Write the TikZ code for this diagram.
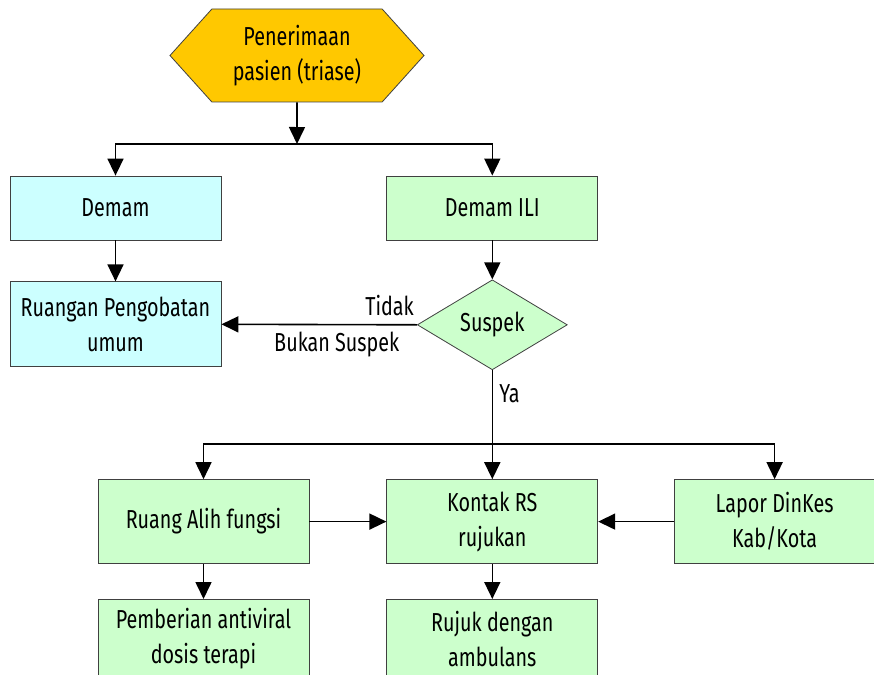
\documentclass[tikz,border=0pt]{standalone}
\usepackage{fontspec}
\setmainfont[FakeStretch=0.76]{Fira Sans}
\usepackage{tikz}
\usetikzlibrary{arrows.meta,positioning,shapes.geometric,shapes.symbols}

\definecolor{hexgold}{RGB}{255,200,0}
\definecolor{boxcyan}{RGB}{204,255,255}
\definecolor{boxgreen}{RGB}{204,255,204}

\begin{document}
\begin{tikzpicture}[x=1pt, y=1pt, font=\fontsize{26}{35}\selectfont, node distance=41pt,
  bx/.style={draw=black!75, line width=0.8pt, fill=#1, align=center, minimum width=211pt, inner sep=2pt},
  arr/.style={-{Triangle[length=17pt,width=16pt]}, line width=1.6pt}]
\useasboundingbox (0,0) rectangle (874,-674);
\node[signal, signal to=east and west, signal pointer angle=96, draw=black!75, line width=0.8pt,
  fill=hexgold, minimum width=254pt, minimum height=93pt, inner sep=0pt, align=center] (hex) at (297,-55.5)
  {Penerimaan\\pasien (triase)};
\coordinate (j1) at (297,-144);
\node[bx=boxcyan, minimum height=64pt] (demam) at (115.5,-208) {Demam};
\node[bx=boxgreen, minimum height=64pt, right=165pt of demam] (ili) {Demam ILI};
\node[bx=boxcyan, minimum height=85pt, below=41pt of demam] (umum) {Ruangan Pengobatan\\umum};
\node[diamond, draw=black!75, line width=0.8pt, fill=boxgreen, minimum width=150pt, minimum height=90pt,
  inner sep=0pt, below=39pt of ili] (suspek) {Suspek};
\node[bx=boxgreen, minimum height=84pt, below=109pt of suspek] (kontak) {Kontak RS\\rujukan};
\coordinate (j2) at (suspek |- 0,-444);
\node[bx=boxgreen, minimum height=84pt, left=77pt of kontak] (alih) {Ruang Alih fungsi};
\node[bx=boxgreen, minimum height=84pt, minimum width=200pt, right=76pt of kontak] (lapor) {Lapor DinKes\\Kab/Kota};
\node[bx=boxgreen, minimum height=79pt, below=35pt of alih] (antiviral) {Pemberian antiviral\\dosis terapi};
\node[bx=boxgreen, minimum height=79pt, below=35pt of kontak] (ambulans) {Rujuk dengan\\ambulans};
% alur atas
\draw[arr] (hex) -- (j1);
\draw[arr] (j1) -| (demam.north);
\draw[arr] (j1) -| (ili.north);
\draw[arr] (demam) -- (umum);
\draw[arr] (ili) -- (suspek);
\draw[arr] (suspek.west) -- node[pos=0.14, above=5pt]{Tidak} node[pos=0.41, below=3pt]{Bukan Suspek} (umum.east);
% alur bawah
\draw[arr] (suspek.south) -- node[pos=0.22, right=3pt]{Ya} (kontak.north);
\draw[arr] (j2) -| (alih.north);
\draw[arr] (j2) -| (lapor.north);
\draw[arr] (alih) -- (kontak);
\draw[arr] (lapor) -- (kontak);
\draw[arr] (alih) -- (antiviral);
\draw[arr] (kontak) -- (ambulans);
\end{tikzpicture}
\end{document}
